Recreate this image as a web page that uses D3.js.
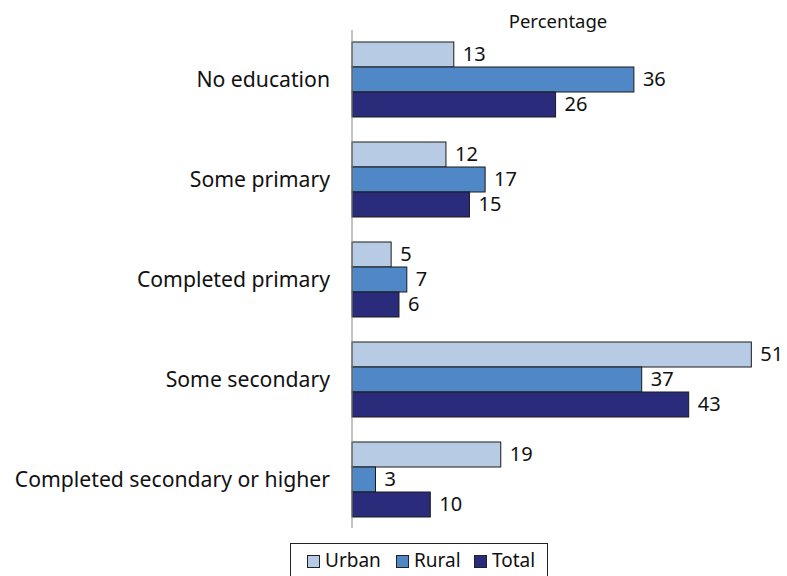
<!DOCTYPE html>
<html><head><meta charset="utf-8">
<script src="https://cdn.jsdelivr.net/npm/d3@7"></script>
<style>body{margin:0;background:#fff}svg{display:block}text{font-family:"Noto Sans",sans-serif;fill:#111}</style>
</head><body><svg id="c" width="787" height="576"></svg>
<script>
const categories = ["No education","Some primary","Completed primary","Some secondary","Completed secondary or higher"];
const seriesNames = ["Urban","Rural","Total"];
const urban = [13,12,5,51,19];
const rural = [36,17,7,37,3];
const total = [26,15,6,43,10];
const colors = ["#B7CCE4","#4F87C7","#2A2B7B"];
const axisTitle = "Percentage";

const svg = d3.select("#c");
const series = [urban, rural, total];
const x = d3.scaleLinear().domain([0,55]).range([352, 352+55*7.83]);
const y = d3.scaleBand().domain(categories).range([29.5,529.5]).paddingInner(0.25).paddingOuter(0.125);
const ys = d3.scaleBand().domain(seriesNames).range([0,y.bandwidth()]);

categories.forEach((c,i)=>{
  const g = svg.append("g").attr("transform",`translate(0,${y(c)})`);
  seriesNames.forEach((s,j)=>{
    const v = series[j][i];
    g.append("rect").attr("x",x(0)).attr("y",ys(s)).attr("width",x(v)-x(0)).attr("height",ys.bandwidth())
      .attr("fill",colors[j]).attr("stroke","#1a1a1a").attr("stroke-width",1);
    g.append("text").attr("x",x(v)+9).attr("y",ys(s)+ys.bandwidth()/2+1.5).attr("dominant-baseline","middle")
      .attr("font-size",20).text(v);
  });
  svg.append("text").attr("x",330).attr("y",y(c)+y.bandwidth()/2+2).attr("text-anchor","end")
    .attr("dominant-baseline","middle").attr("font-size",21.2).text(c);
});

svg.append("line").attr("x1",x(0)).attr("x2",x(0)).attr("y1",30).attr("y2",528).attr("stroke","#888").attr("stroke-width",1);
svg.append("text").attr("x",558).attr("y",28).attr("text-anchor","middle").attr("font-size",18.5).text(axisTitle);

// legend
const lg = svg.append("g");
lg.append("rect").attr("x",290.5).attr("y",543.5).attr("width",257).attr("height",40).attr("fill","#fff").attr("stroke","#222");
const lx = [307,396,474];
seriesNames.forEach((s,j)=>{
  lg.append("rect").attr("x",lx[j]+0.5).attr("y",555.5).attr("width",12).attr("height",12).attr("fill",colors[j]).attr("stroke","#222");
  lg.append("text").attr("x",lx[j]+18).attr("y",562).attr("dominant-baseline","middle").attr("font-size",19).text(s);
});
</script></body></html>
